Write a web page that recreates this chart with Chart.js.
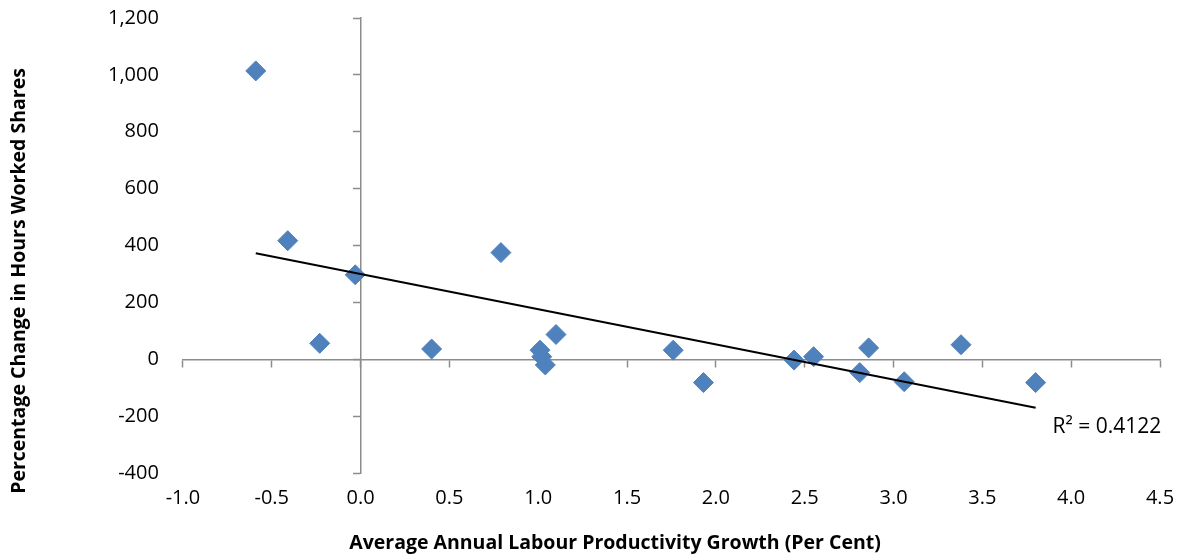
<!DOCTYPE html>
<html>
<head>
<meta charset="utf-8">
<script src="https://cdn.jsdelivr.net/npm/chart.js@4.4.0/dist/chart.umd.min.js"></script>
<style>
  html, body { margin: 0; padding: 0; background: #fff; }
  #wrap { width: 1181px; height: 554px; }
</style>
</head>
<body>
<div id="wrap"><canvas id="scatter-chart"></canvas></div>
<script>
// productivity growth (per cent) vs change in hours worked shares
var growth = [-0.59, -0.41, -0.23, -0.03, 0.40, 0.79, 1.01, 1.02, 1.04, 1.10,
  1.76, 1.93, 2.44, 2.55, 2.81, 2.86, 3.06, 3.38, 3.80];
var hoursChange = [1014, 417, 56, 297, 36, 375, 32, 9, -20, 87,
  32, -82, -3, 9, -47, 40, -79, 51, -82];
var xTicks = [-1.0, -0.5, 0.0, 0.5, 1.0, 1.5, 2.0, 2.5, 3.0, 3.5, 4.0, 4.5];
var yTicks = [-400, -200, 0, 200, 400, 600, 800, 1000, 1200];
var xTitle = "Average Annual Labour Productivity Growth (Per Cent)";
var yTitle = "Percentage Change in Hours Worked Shares";
var rSquaredLabel = "R\u00b2 = 0.4122";

var points = growth.map(function (g, i) {
  return { x: g, y: hoursChange[i] };
});

// linear trend line (least squares)
var n = points.length;
var sx = 0, sy = 0, sxx = 0, sxy = 0;
points.forEach(function (p) {
  sx += p.x; sy += p.y; sxx += p.x * p.x; sxy += p.x * p.y;
});
var slope = (n * sxy - sx * sy) / (n * sxx - sx * sx);
var intercept = (sy - slope * sx) / n;
var xMin = Math.min.apply(null, growth);
var xMax = Math.max.apply(null, growth);
var trend = [
  { x: xMin, y: intercept + slope * xMin },
  { x: xMax, y: intercept + slope * xMax },
];

var axisGrey = "#8c8c8c";
var fontFamily = "'Open Sans', sans-serif";

// R² label and the two axis titles (placed like Excel does, not centred on the plot)
var labelsPlugin = {
  id: "chartLabels",
  afterDraw: function (chart) {
    var ctx = chart.ctx;
    ctx.save();
    ctx.fillStyle = "#000";
    ctx.textBaseline = "middle";

    ctx.font = "21px " + fontFamily;
    ctx.textAlign = "left";
    ctx.fillText(rSquaredLabel,
      chart.scales.x.getPixelForValue(3.895),
      chart.scales.y.getPixelForValue(-238));

    ctx.font = "bold 19.5px " + fontFamily;
    ctx.textAlign = "center";
    ctx.fillText(xTitle, 615, 543);

    ctx.translate(19, 281);
    ctx.rotate(-Math.PI / 2);
    ctx.fillText(yTitle, 0, 0);
    ctx.restore();
  },
};

var ctx = document.getElementById("scatter-chart").getContext("2d");
new Chart(ctx, {
  type: "scatter",
  data: {
    datasets: [
      {
        label: "Industries",
        data: points,
        pointStyle: "rectRot",
        pointRadius: 10,
        pointHoverRadius: 10,
        backgroundColor: "#4f81bd",
        borderColor: "#4f81bd",
        borderWidth: 1,
        order: 2,
      },
      {
        label: "Linear trend",
        type: "line",
        data: trend,
        borderColor: "#000",
        borderWidth: 2,
        pointRadius: 0,
        fill: false,
        order: 1,
      },
    ],
  },
  options: {
    responsive: true,
    maintainAspectRatio: false,
    animation: false,
    layout: { padding: { top: 18, right: 21, left: 108, bottom: 44 } },
    plugins: {
      legend: { display: false },
      tooltip: { enabled: false },
    },
    scales: {
      // axes crossing at zero: line and tick marks only
      x: {
        type: "linear",
        min: -1,
        max: 4.5,
        position: { y: 0 },
        afterBuildTicks: function (axis) {
          axis.ticks = xTicks.map(function (v) { return { value: v }; });
        },
        ticks: { display: false },
        grid: {
          display: true,
          drawOnChartArea: false,
          drawTicks: true,
          tickLength: 7,
          tickWidth: 1.5,
          tickColor: axisGrey,
        },
        border: { display: true, color: axisGrey, width: 1.5 },
      },
      y: {
        type: "linear",
        min: -400,
        max: 1200,
        position: { x: 0 },
        afterBuildTicks: function (axis) {
          axis.ticks = yTicks.map(function (v) { return { value: v }; });
        },
        ticks: { display: false },
        grid: {
          display: true,
          drawOnChartArea: false,
          drawTicks: true,
          tickLength: 7,
          tickWidth: 1.5,
          tickColor: axisGrey,
        },
        border: { display: true, color: axisGrey, width: 1.5 },
      },
      // tick labels sit at the plot edges; invisible tick marks give the gap
      xLabels: {
        type: "linear",
        position: "bottom",
        min: -1,
        max: 4.5,
        afterBuildTicks: function (axis) {
          axis.ticks = xTicks.map(function (v) { return { value: v }; });
        },
        grid: {
          display: true,
          drawOnChartArea: false,
          drawTicks: true,
          tickLength: 13,
          tickColor: "rgba(0,0,0,0)",
        },
        border: { display: false },
        ticks: {
          padding: 0,
          color: "#000",
          font: { size: 20, family: fontFamily },
          callback: function (v) { return v.toFixed(1); },
        },
      },
      yLabels: {
        type: "linear",
        position: "left",
        min: -400,
        max: 1200,
        afterBuildTicks: function (axis) {
          axis.ticks = yTicks.map(function (v) { return { value: v }; });
        },
        grid: {
          display: true,
          drawOnChartArea: false,
          drawTicks: true,
          tickLength: 24,
          tickColor: "rgba(0,0,0,0)",
        },
        border: { display: false },
        ticks: {
          padding: 0,
          color: "#000",
          font: { size: 20, family: fontFamily },
          callback: function (v) { return v.toLocaleString("en-US"); },
        },
      },
    },
  },
  plugins: [labelsPlugin],
});
</script>
</body>
</html>
